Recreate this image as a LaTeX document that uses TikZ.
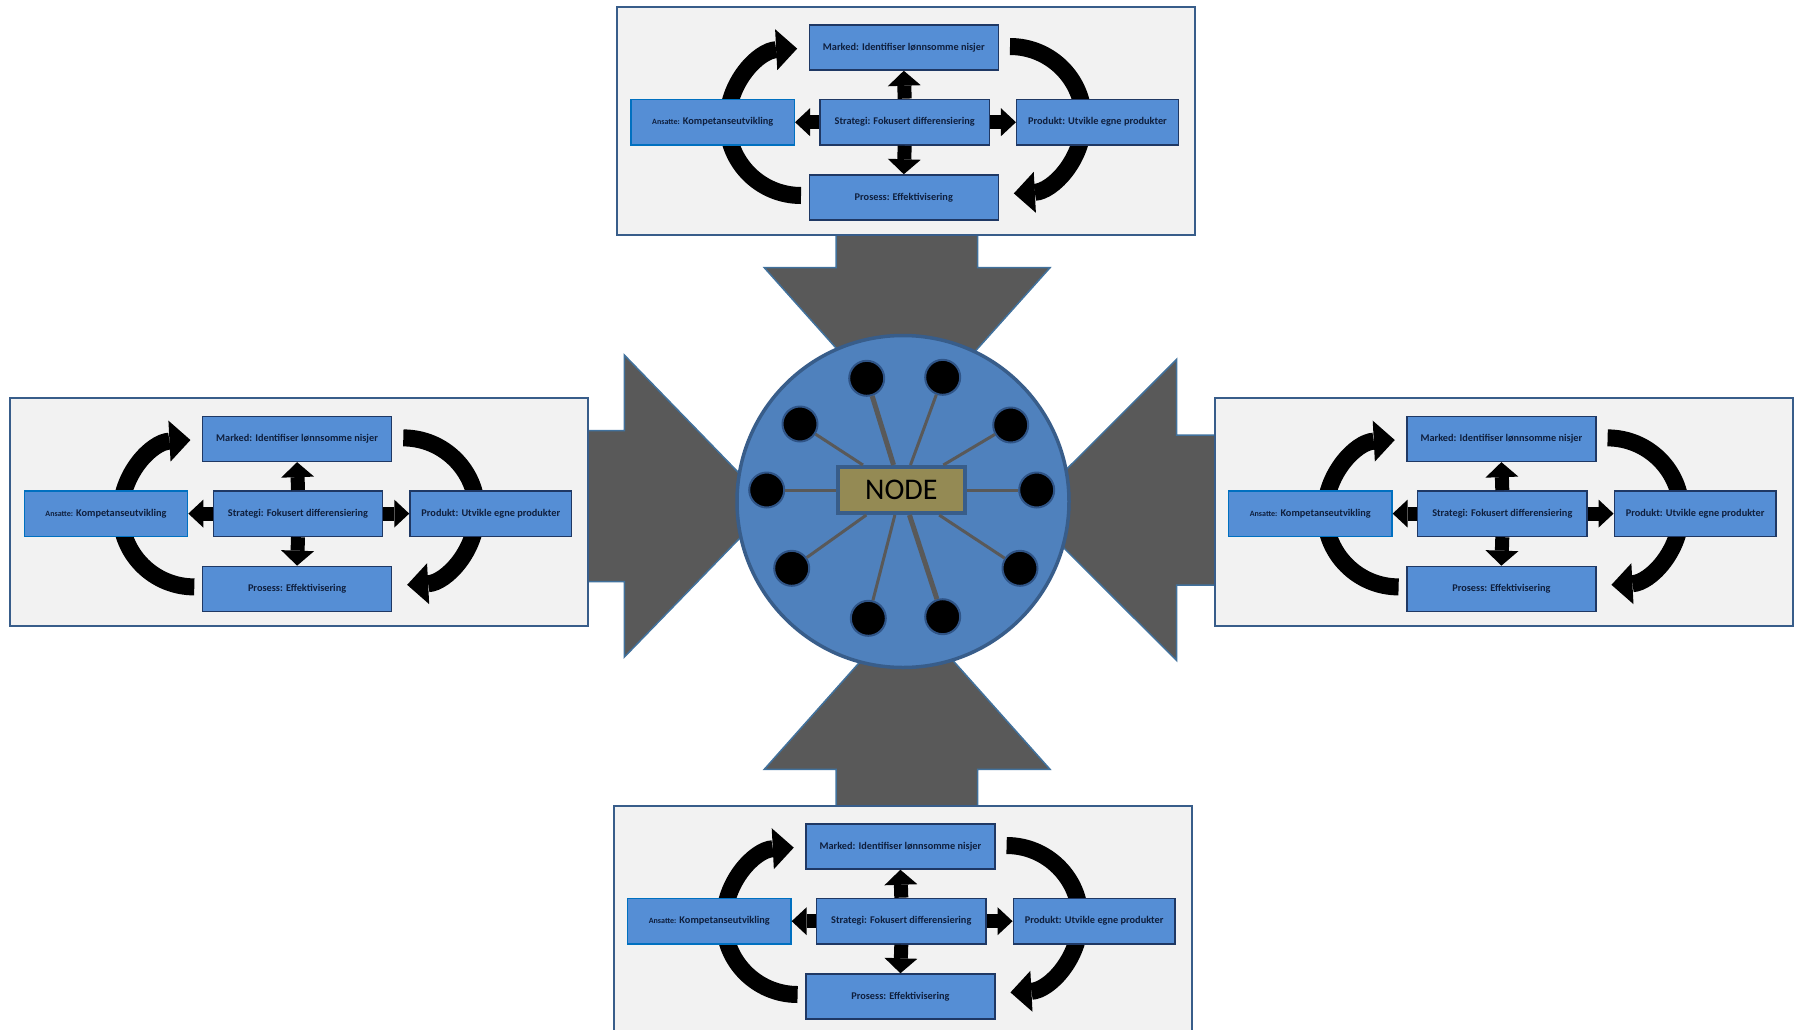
\documentclass[tikz,border=0pt]{standalone}
\usepackage{fontspec}
\newfontfamily\calib{Carlito}
\usetikzlibrary{arrows.meta}
\definecolor{panelfill}{HTML}{F2F2F2}
\definecolor{panelline}{HTML}{385D8A}
\definecolor{boxblue}{HTML}{558ED5}
\definecolor{boxline}{HTML}{1F3864}
\definecolor{boxlinelight}{HTML}{0070C0}
\definecolor{textnavy}{HTML}{0F1F3D}
\definecolor{hubblue}{HTML}{4F81BD}
\definecolor{hubline}{HTML}{385D8A}
\definecolor{bigarrow}{HTML}{595959}
\definecolor{bigarrowline}{HTML}{41719C}
\definecolor{olive}{HTML}{948A54}
\definecolor{dotline}{HTML}{2F5487}
\tikzset{
  panelbg/.style={rectangle, fill=panelfill, draw=panelline, line width=1pt,
    minimum width=289pt, minimum height=114pt, inner sep=0pt},
  sbox/.style={rectangle, fill=boxblue, draw=boxline, line width=0.75pt,
    minimum height=22.5pt, inner sep=0pt, text=textnavy,
    font={\calib\bfseries\fontsize{5.15pt}{6pt}\selectfont}},
  curvearrow/.style={draw=black, line width=8.5pt,
    -{Triangle[length=10.5pt,width=20.5pt,line width=0pt]}},
  vblock/.style={draw=black, line width=7pt,
    -{Triangle[length=7.5pt,width=16.5pt,line width=0pt]}},
  hblock/.style={draw=black, line width=7pt,
    -{Triangle[length=7.5pt,width=14pt,line width=0pt]}},
  bigarrowshape/.style={fill=bigarrow, draw=bigarrowline, line width=0.75pt, line join=miter},
  hubcircle/.style={circle, fill=hubblue, draw=hubline, line width=1.75pt,
    minimum size=166pt, inner sep=0pt},
  blackdot/.style={circle, fill=black, draw=dotline, line width=1pt,
    minimum size=17.5pt, inner sep=0pt},
  spoke/.style={draw=bigarrow, line width=1.5pt},
  thickspoke/.style={draw=bigarrow, line width=2.5pt},
  nodebox/.style={rectangle, fill=olive, draw=hubline, line width=2pt,
    minimum width=63.5pt, minimum height=23pt, inner sep=0pt,
    font={\calib\fontsize{15pt}{18pt}\selectfont}},
  stratpanel/.pic={
    \node[panelbg] (-bg) at (289,114) {};
    \coordinate (-l0) at (184,188.5);
    \coordinate (-r0) at (393,39.5);
    \draw[curvearrow] (-l0) arc[start angle=90, end angle=267, radius=73.5];
    \draw[curvearrow] (-r0) arc[start angle=270, end angle=447, radius=73.5];
    \node[sbox, minimum width=94.5pt] (-m) at (286.8,40.5) {Marked: Identifiser lønnsomme nisjer};
    \node[sbox, minimum width=84.6pt, minimum height=22.8pt] (-s) at (287.7,115.2) {Strategi: Fokusert differensiering};
    \node[sbox, draw=boxlinelight, minimum width=81.6pt, minimum height=22.8pt] (-a) at (95.7,115.2) {{\fontsize{4pt}{5pt}\selectfont Ansatte:} Kompetanseutvikling};
    \node[sbox, minimum width=80.8pt, minimum height=22.8pt] (-p) at (480.5,115.2) {Produkt: Utvikle egne produkter};
    \node[sbox, minimum width=94.5pt] (-e) at (286.8,190.5) {Prosess: Effektivisering};
    \draw[vblock] (-s.north) -- (-m.south);
    \draw[vblock] (-s.south) -- (-e.north);
    \draw[hblock] (-s.west) -- (-a.east);
    \draw[hblock] (-s.east) -- (-p.west);
  }
}
\begin{document}
\begin{tikzpicture}[x=0.5pt,y=-0.5pt]
\useasboundingbox (0,0) rectangle (1795,1029);
\clip (0,0) rectangle (1795,1029);
% big gray arrows
\draw[bigarrowshape] (836,225) -- (836,267.7) -- (764.3,267.7) -- (907,427.5) -- (1050,267.7) -- (977.6,267.7) -- (977.6,225) -- cycle;
\draw[bigarrowshape] (836,815) -- (836,769.3) -- (764.3,769.3) -- (907,609) -- (1050,769.3) -- (977.7,769.3) -- (977.7,815) -- cycle;
\draw[bigarrowshape] (580,430.7) -- (624.3,430.7) -- (624.3,355) -- (771,506) -- (624.3,657.1) -- (624.3,581.6) -- (580,581.6) -- cycle;
\draw[bigarrowshape] (1225,435) -- (1176.7,435) -- (1176.7,359.3) -- (1025.7,510) -- (1176.7,660.5) -- (1176.7,585) -- (1225,585) -- cycle;
% panels
\pic (T) at (617,7) {stratpanel};
\pic (L) at (10.3,398.4) {stratpanel};
\pic (R) at (1214.6,398.4) {stratpanel};
\pic (B) at (613.6,806) {stratpanel};
% hub
\node[hubcircle] (hub) at (903,501.5) {};
\node[nodebox] (nb) at (901.3,490) {NODE};
\node[blackdot] (d1) at (866.7,378.3) {};
\node[blackdot] (d2) at (942.7,377.3) {};
\node[blackdot] (d3) at (1010.7,425) {};
\node[blackdot] (d4) at (1036.7,490) {};
\node[blackdot] (d5) at (1020,568.3) {};
\node[blackdot] (d6) at (942.7,616.7) {};
\node[blackdot] (d7) at (868.3,618.3) {};
\node[blackdot] (d8) at (791.7,568.3) {};
\node[blackdot] (d9) at (766.7,490) {};
\node[blackdot] (d10) at (800,424) {};
\draw[thickspoke] (d1) -- (nb);
\draw[spoke] (d2) -- (nb);
\draw[spoke] (d3) -- (nb);
\draw[spoke] (d4) -- (nb);
\draw[spoke] (d5) -- (nb);
\draw[thickspoke] (d6) -- (nb);
\draw[spoke] (d7) -- (nb);
\draw[spoke] (d8) -- (nb);
\draw[spoke] (d9) -- (nb);
\draw[spoke] (d10) -- (nb);
\end{tikzpicture}
\end{document}
